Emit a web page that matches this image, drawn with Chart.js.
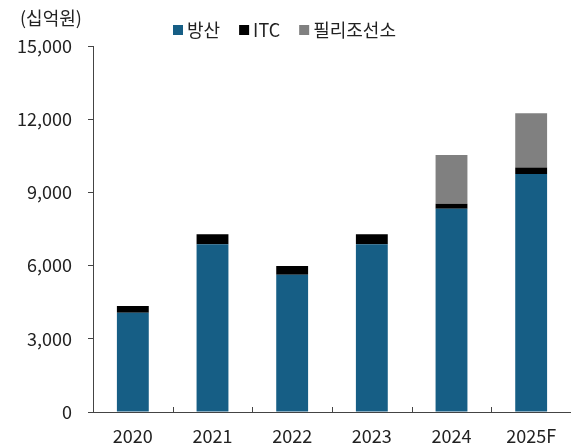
<!DOCTYPE html>
<html>
<head>
<meta charset="utf-8">
<script src="https://cdn.jsdelivr.net/npm/chart.js@4/dist/chart.umd.min.js"></script>
<style>
  html, body { margin: 0; padding: 0; background: #fff; }
  #wrap { width: 571px; height: 445px; }
</style>
</head>
<body>
<div id="wrap"><canvas id="chart"></canvas></div>
<script>
const years = ['2020', '2021', '2022', '2023', '2024', '2025F'];
const defense = [4070, 6870, 5620, 6870, 8330, 9750];
const itc = [270, 410, 360, 410, 200, 270];
const phillyShipyard = [0, 0, 0, 0, 2000, 2220];
const yTicks = [0, 3000, 6000, 9000, 12000, 15000];

const FONT = '"Noto Sans CJK KR", "Noto Sans", sans-serif';

// unit label, compact legend, small inward ticks between categories
const extras = {
  id: 'extras',
  afterDraw(chart) {
    const { ctx, scales: { x, y } } = chart;
    ctx.save();
    ctx.strokeStyle = '#444';
    ctx.lineWidth = 1;
    for (let i = 0; i < years.length - 1; i++) {
      const px = Math.round((x.getPixelForTick(i) + x.getPixelForTick(i + 1)) / 2) + 0.5;
      ctx.beginPath();
      ctx.moveTo(px, y.bottom);
      ctx.lineTo(px, y.bottom - 5);
      ctx.stroke();
    }
    ctx.fillStyle = '#222';
    ctx.font = '18px ' + FONT;
    ctx.textBaseline = 'middle';
    ctx.textAlign = 'left';
    ctx.fillText('(십억원)', 20, 18);

    // legend
    let lx = 173;
    const ly = 30;
    chart.data.datasets.forEach(ds => {
      ctx.fillStyle = ds.backgroundColor;
      ctx.fillRect(lx, ly - 5, 10, 10);
      ctx.fillStyle = '#222';
      ctx.fillText(ds.label, lx + 14, ly);
      lx += 14 + ctx.measureText(ds.label).width + 19;
    });
    ctx.restore();
  }
};

new Chart(document.getElementById('chart'), {
  type: 'bar',
  data: {
    labels: years,
    datasets: [
      { label: '방산', data: defense, backgroundColor: '#165E85' },
      { label: 'ITC', data: itc, backgroundColor: '#000000' },
      { label: '필리조선소', data: phillyShipyard, backgroundColor: '#808080' }
    ]
  },
  options: {
    responsive: true,
    maintainAspectRatio: false,
    animation: false,
    layout: { padding: { top: 46, right: 0, left: 0, bottom: 0 } },
    datasets: { bar: { categoryPercentage: 1, barPercentage: 0.4 } },
    plugins: {
      legend: { display: false },
      tooltip: { enabled: false }
    },
    scales: {
      x: {
        stacked: true,
        afterFit(scale) { scale.height = 33; },
        grid: { display: false, drawTicks: false },
        border: { color: '#444', width: 1 },
        ticks: { color: '#222', font: { family: FONT, size: 18 }, padding: 13 }
      },
      y: {
        stacked: true,
        min: 0,
        max: 15000,
        afterBuildTicks(scale) { scale.ticks = yTicks.map(v => ({ value: v })); },
        afterFit(scale) { scale.width = 93; },
        grid: { drawOnChartArea: false, tickLength: 5, color: '#444' },
        border: { color: '#444', width: 1 },
        ticks: {
          color: '#222',
          font: { family: FONT, size: 18 },
          padding: 16,
          callback: v => v.toLocaleString('en-US')
        }
      }
    }
  },
  plugins: [extras]
});
</script>
</body>
</html>
